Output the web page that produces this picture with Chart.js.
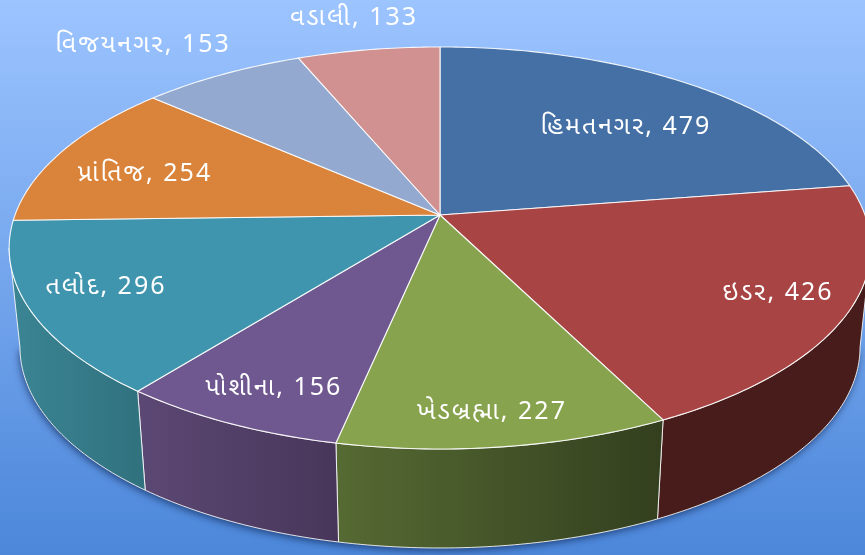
<!DOCTYPE html>
<html><head><meta charset="utf-8">
<style>html,body{margin:0;padding:0;background:#4f8bdd;overflow:hidden}canvas{display:block}</style>
<script src="https://cdn.jsdelivr.net/npm/chart.js@4/dist/chart.umd.min.js"></script>
</head><body>
<canvas id="c" width="865" height="555"></canvas>
<script>
const categories = ['હિમતનગર','ઇડર','ખેડબ્રહ્મા','પોશીના','તલોદ','પ્રાંતિજ','વિજયનગર','વડાલી'];
const values = [479,426,227,156,296,254,153,133];
const topColors = ['#4470a6','#a84544','#88a34e','#6f578f','#3f95ad','#da843b','#93a9cf','#d09190'];
const sideLeft = ['#2a4568','#481c1a','#566a33','#5c4874','#3b8594','#8a5325','#5d6c86','#84605e'];
const sideRight = ['#2a4568','#481c1a','#333f1e','#48365a','#31727f','#8a5325','#5d6c86','#84605e'];
const labelAt = [[626,127],[778,293],[492,412],[274,388],[106,287],[145,174],[143,45],[354,18]];

// projection of the pie plane onto the picture
const CX=440, CY=215, RX=425, RY=195.6, K=-0.164, DEPTH=99, SHRINK=0.975;
function proj(theta, r, low){
  const u=r*Math.sin(theta), v=-r*Math.cos(theta), w=1+K*v;
  return low ? [CX+SHRINK*RX*u/w, CY+DEPTH+RY*v/w] : [CX+RX*u/w, CY+RY*v/w];
}
function rimPath(ctx,a,b,low,first){
  const n=Math.max(4,Math.ceil(Math.abs(b-a)/0.015));
  for(let i=0;i<=n;i++){
    const p=proj(a+(b-a)*i/n,1,low);
    if(i===0&&first) ctx.moveTo(p[0],p[1]); else ctx.lineTo(p[0],p[1]);
  }
}
function drawTopFace(el,ctx,color){
  const a=el.startAngle+Math.PI/2, b=el.endAngle+Math.PI/2;
  ctx.beginPath(); ctx.moveTo(CX,CY); rimPath(ctx,a,b,false,false); ctx.closePath();
  ctx.fillStyle=color; ctx.fill();
  ctx.strokeStyle='rgba(255,255,255,0.9)'; ctx.lineWidth=1.1; ctx.lineJoin='round'; ctx.stroke();
}
const FRONT0=Math.acos(K), FRONT1=2*Math.PI-Math.acos(K);
function drawSide(ctx,a,b,i){
  const s=Math.max(a,FRONT0), e=Math.min(b,FRONT1);
  if(e<=s) return;
  const p0=proj(s,1,false), p1=proj(e,1,false);
  const g=ctx.createLinearGradient(Math.min(p0[0],p1[0]),0,Math.max(p0[0],p1[0]),0);
  g.addColorStop(0,sideLeft[i]); g.addColorStop(1,sideRight[i]);
  ctx.beginPath(); rimPath(ctx,s,e,false,true); rimPath(ctx,e,s,true,false); ctx.closePath();
  ctx.fillStyle=g; ctx.fill();
  ctx.strokeStyle='rgba(255,255,255,0.85)'; ctx.lineWidth=1; ctx.lineJoin='round'; ctx.stroke();
}

const piePlugin = {
  id:'perspectivePie',
  beforeDraw(chart){
    const {ctx,width,height}=chart;
    const g=ctx.createLinearGradient(0,0,0,height);
    g.addColorStop(0,'#9cc4ff'); g.addColorStop(1,'#4c87da');
    ctx.save(); ctx.fillStyle=g; ctx.fillRect(0,0,width,height); ctx.restore();
  },
  afterDatasetsUpdate(chart){
    chart.getDatasetMeta(0).data.forEach((el,i)=>{
      el.draw=function(ctx){ drawTopFace(this,ctx,topColors[i]); };
    });
  },
  beforeDatasetsDraw(chart){
    const {ctx}=chart, arcs=chart.getDatasetMeta(0).data;
    ctx.save();
    // soft shadow below the wall
    ctx.save();
    ctx.shadowColor='rgba(0,20,60,0.55)'; ctx.shadowBlur=7; ctx.shadowOffsetY=3; ctx.shadowOffsetX=-1;
    ctx.beginPath(); rimPath(ctx,FRONT0,FRONT1,true,true); ctx.closePath();
    ctx.fillStyle='#334'; ctx.fill();
    ctx.restore();
    arcs.forEach((arc,i)=>{
      drawSide(ctx,arc.startAngle+Math.PI/2,arc.endAngle+Math.PI/2,i);
    });
    ctx.restore();
  },
  afterDatasetsDraw(chart){
    const {ctx}=chart;
    ctx.save();
    ctx.fillStyle='#fff'; ctx.textAlign='center'; ctx.textBaseline='middle';
    ctx.font='25px "Noto Sans", "Noto Sans Gujarati", "DejaVu Sans", sans-serif';
    ctx.letterSpacing='2px';
    categories.forEach((c,i)=>{
      ctx.fillText(c+', '+values[i],labelAt[i][0],labelAt[i][1]);
    });
    ctx.restore();
  }
};

new Chart(document.getElementById('c'),{
  type:'pie',
  data:{labels:categories,datasets:[{data:values,backgroundColor:topColors,borderColor:'#fff',borderWidth:1}]},
  options:{responsive:false,animation:false,
    plugins:{legend:{display:false},tooltip:{enabled:false}},
    layout:{padding:0}},
  plugins:[piePlugin]
});
</script>
</body></html>
